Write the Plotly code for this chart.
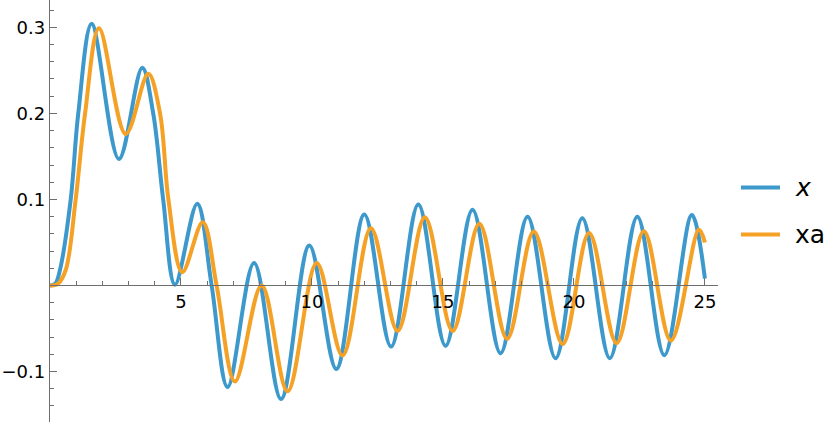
import plotly.graph_objects as go

# Curve "x" (blue): points (extrema and edge points)
t_x = [0.0, 0.2, 0.38, 0.79, 1.08, 1.59, 2.63, 3.52, 3.94, 4.32, 4.77, 5.62, 6.17, 6.78,
       7.79, 8.82, 9.90, 10.93, 12.0, 13.02, 14.06, 15.1, 16.13, 17.2, 18.23,
       19.3, 20.32, 21.37, 22.42, 23.45, 24.5, 25.0]
v_x = [0.0, 0.002, 0.018, 0.1, 0.2, 0.304, 0.147, 0.253, 0.2, 0.1, 0.001, 0.095, 0.0, -0.118,
       0.026, -0.132, 0.0465, -0.097, 0.0826, -0.071, 0.094, -0.070, 0.088, -0.0787, 0.080,
       -0.0845, 0.078, -0.0845, 0.080, -0.081, 0.082, 0.008]

# Curve "xa" (orange)
t_xa = [0.0, 0.3, 0.6, 0.98, 1.34, 1.87, 2.89, 3.75, 4.2, 4.52, 5.05, 5.83, 6.36, 7.06,
        8.08, 9.07, 10.18, 11.17, 12.25, 13.27, 14.31, 15.37, 16.39, 17.45, 18.47,
        19.57, 20.58, 21.63, 22.67, 23.7, 24.77, 25.0]
v_xa = [0.0, 0.002, 0.018, 0.1, 0.2, 0.299, 0.176, 0.246, 0.2, 0.1, 0.0155, 0.0736, 0.0, -0.1116,
        0.0, -0.123, 0.026, -0.0814, 0.0666, -0.0528, 0.0794, -0.0528, 0.0716, -0.062, 0.0628,
        -0.068, 0.061, -0.067, 0.063, -0.064, 0.065, 0.05]

series_names = ["<i>x</i>", "xa"]
x_ticks = [5, 10, 15, 20, 25]
y_ticks = [-0.1, 0.1, 0.2, 0.3]
y_tick_text = ["\u22120.1", "0.1", "0.2", "0.3"]

BLUE = "#3D99CC"
ORANGE = "#F5A126"
AXIS = "#6e6e6e"
colors = [BLUE, ORANGE]

fig = go.Figure()
for (tx, vy), name, col in zip([(t_x, v_x), (t_xa, v_xa)], series_names, colors):
    fig.add_trace(go.Scatter(x=tx, y=vy, mode="lines", name=name, showlegend=False,
                             line=dict(color=col, width=4, shape="spline", smoothing=1.0)))

y0, y1 = -0.1586, 0.3317
zero_pos = (0 - y0) / (y1 - y0)

# manual legend (lines + real text)
leg_y = [0.5557, 0.4443]
for name, col, ly in zip(series_names, colors, leg_y):
    fig.add_shape(type="line", xref="paper", yref="paper", x0=1.0344, x1=1.0928,
                  y0=ly, y1=ly, line=dict(color=col, width=4))
    fig.add_annotation(xref="paper", yref="paper", x=1.1123, y=ly, xanchor="left",
                       yanchor="middle", text=name, showarrow=False,
                       font=dict(size=25, color="black", family="DejaVu Sans"))

fig.update_layout(
    width=836, height=424,
    margin=dict(l=50, r=118, t=0, b=2),
    paper_bgcolor="white", plot_bgcolor="white",
    font=dict(family="DejaVu Sans", size=18, color="black"),
    showlegend=False,
    xaxis=dict(range=[0, 25.5], anchor="free", position=zero_pos, automargin=False,
               showline=True, linecolor=AXIS, linewidth=1.3,
               showgrid=False, zeroline=False,
               tickvals=x_ticks, ticks="inside", ticklen=7, tickcolor=AXIS, tickwidth=1,
               minor=dict(dtick=1, tick0=0, ticks="inside", ticklen=4, tickcolor=AXIS),
               tickfont=dict(size=18)),
    yaxis=dict(range=[y0, y1], automargin=False,
               showline=True, linecolor=AXIS, linewidth=1.3,
               showgrid=False, zeroline=False,
               tickvals=y_ticks, ticktext=y_tick_text,
               ticks="inside", ticklen=7, tickcolor=AXIS, tickwidth=1,
               minor=dict(dtick=0.02, tick0=0, ticks="inside", ticklen=4, tickcolor=AXIS),
               tickfont=dict(size=18)),
)

fig.write_html("out.html", config={"displayModeBar": False},
               post_script="document.body.style.margin='0';")
